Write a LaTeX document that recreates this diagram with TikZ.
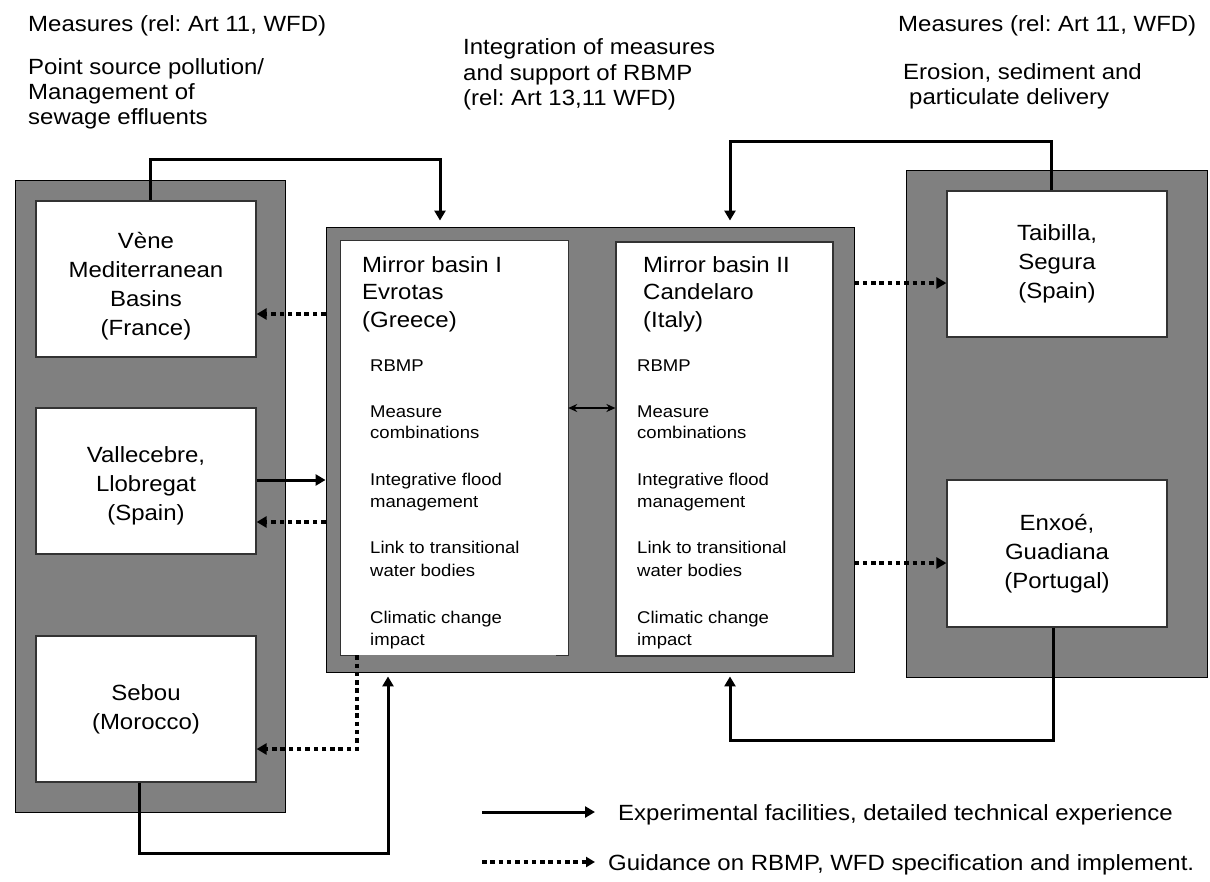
\documentclass[tikz,border=0pt]{standalone}
\usepackage{fontspec}
\setmainfont{Liberation Sans}[FakeStretch=1.09]
\usetikzlibrary{arrows.meta,calc}
\definecolor{panelgray}{HTML}{808080}
\definecolor{edgegray}{HTML}{333333}
\newcommand{\fsbig}{\fontsize{22}{29}\selectfont}
\newcommand{\fssmall}{\fontsize{17}{21}\selectfont}
\frenchspacing
\begin{document}
\begin{tikzpicture}[x=1pt,y=-1pt,
  panel/.style={rectangle, draw=black, line width=0.9pt, fill=panelgray, inner sep=0pt},
  basin/.style={rectangle, draw=edgegray, line width=1.2pt, fill=white, inner sep=0pt,
                align=center, font=\fsbig},
  title/.style={anchor=base west, inner sep=0pt, font=\fsbig},
  item/.style={anchor=base west, inner sep=0pt, font=\fssmall},
  flow/.style={line width=3pt, -{Triangle[length=10pt,width=11pt]}},
  guide/.style={line width=3.3pt, dash pattern=on 4.5pt off 3.8pt,
                -{Triangle[length=10pt,width=11pt]}},
  link/.style={line width=1.5pt, {Stealth[length=9pt,width=8pt]}-{Stealth[length=9pt,width=8pt]}}]

\useasboundingbox (0,0) rectangle (1210,881);

% headings
\node[title] (hl1) at (28,31)  {Measures (rel: Art 11, WFD)};
\node[title] (hl2) at (28,74)  {Point source pollution/};
\node[title] (hl3) at (28,99)  {Management of};
\node[title] (hl4) at (28,124) {sewage effluents};
\node[title] (hc1) at (463,54)  {Integration of measures};
\node[title] (hc2) at (463,80)  {and support of RBMP};
\node[title] (hc3) at (463,105) {(rel: Art 13,11 WFD)};
\node[title] (hr1) at (898,31)  {Measures (rel: Art 11, WFD)};
\node[title] (hr2) at (903,79)  {Erosion, sediment and};
\node[title] (hr3) at (909,104) {particulate delivery};

% grey panels
\node[panel, minimum width=270pt, minimum height=632pt] (leftpanel)  at (150,496) {};
\node[panel, minimum width=528pt, minimum height=445pt] (midpanel)   at (590,449.5) {};
\node[panel, minimum width=301pt, minimum height=507pt] (rightpanel) at (1056.5,423.5) {};

% basins (a strut in the first line lowers the text block a little)
\node[basin, minimum width=220pt, minimum height=156pt] (vene)  at (146,279)
  {\rule{0pt}{31pt}Vène\\Mediterranean\\Basins\\(France)};
\node[basin, minimum width=220pt, minimum height=146pt] (valle) at (146,481)
  {\rule{0pt}{26pt}Vallecebre,\\Llobregat\\(Spain)};
\node[basin, minimum width=220pt, minimum height=146pt] (sebou) at (146,709)
  {Sebou\\(Morocco)};
\node[basin, minimum width=220pt, minimum height=146pt] (taib)  at (1057,264)
  {Taibilla,\\Segura\\(Spain)};
\node[basin, minimum width=220pt, minimum height=147pt] (enxoe) at (1057,553.5)
  {Enxoé,\\Guadiana\\(Portugal)};

% mirror basins
\node[rectangle, fill=white, inner sep=0pt, minimum width=227pt, minimum height=414pt] (mirI) at (454.5,448) {};
\draw[edgegray, line width=1.2pt]
  ($(mirI.south west)+(16,0)$) -- (mirI.south west) -- (mirI.north west)
  -- (mirI.north east) -- (mirI.south east) -- ($(mirI.south east)+(-12,0)$);
\node[basin, minimum width=217pt, minimum height=414pt] (mirII) at (724.5,449) {};

\node[title] (m1a) at (362,272) {Mirror basin I};
\node[title] (m1b) at (362,299) {Evrotas};
\node[title] (m1c) at (362,327) {(Greece)};
\node[title] (m2a) at (643,272) {Mirror basin II};
\node[title] (m2b) at (643,299) {Candelaro};
\node[title] (m2c) at (643,327) {(Italy)};

\foreach \yy/\itemtext [count=\k] in {371/RBMP, 417/Measure, 438/combinations,
    485/Integrative flood, 507/management, 553/Link to transitional,
    576/water bodies, 623/Climatic change, 645/impact} {
  \node[item] (ia\k) at (370,\yy) {\itemtext};
  \node[item] (ib\k) at (637,\yy) {\itemtext};
}

% helper coordinates for connector routes
\coordinate (xA) at (150,0);   \coordinate (hA) at (440,159);
\coordinate (xB) at (1051,0);  \coordinate (hB) at (730,141);
\coordinate (yC) at (0,314);
\coordinate (yD) at (0,480);
\coordinate (yE) at (0,522);
\coordinate (yF) at (0,408);
\coordinate (yG) at (0,283);
\coordinate (yH) at (0,563);
\coordinate (xI) at (1053,0);  \coordinate (hI) at (730,740);
\coordinate (xJ) at (139,0);   \coordinate (hJ) at (388,853);
\coordinate (xK) at (357,0);   \coordinate (yK) at (0,749);

% connectors
\draw[flow, shorten >=6pt] (vene.north -| xA) |- (hA) -- (midpanel.north -| hA);
\draw[flow, shorten >=6pt] (taib.north -| xB) |- (hB) -- (midpanel.north -| hB);
\draw[guide] (midpanel.west |- yC) -- (vene.east |- yC);
\draw[flow]  (valle.east |- yD) -- (midpanel.west |- yD);
\draw[guide] (midpanel.west |- yE) -- (valle.east |- yE);
\draw[link]  (mirI.east |- yF) -- (mirII.west |- yF);
\draw[guide] (midpanel.east |- yG) -- (taib.west |- yG);
\draw[guide] (midpanel.east |- yH) -- (enxoe.west |- yH);
\draw[flow, shorten >=4pt] (enxoe.south -| xI) |- (hI) -- (midpanel.south -| hI);
\draw[flow, shorten >=4pt] (sebou.south -| xJ) |- (hJ) -- (midpanel.south -| hJ);
\draw[guide] (mirI.south -| xK) |- (sebou.east |- yK);

% legend
\coordinate (la) at (482,812); \coordinate (lb) at (595,812);
\coordinate (lc) at (482,862); \coordinate (ld) at (595,862);
\draw[flow] (la) -- (lb);
\draw[line width=3.3pt, dash pattern=on 4.5pt off 3.8pt,
      -{Triangle[length=9pt,width=10pt]}] (lc) -- (ld);
\node[title] (leg1) at (618,820) {Experimental facilities, detailed technical experience};
\node[title] (leg2) at (608,870) {Guidance on RBMP, WFD specification and implement.};
\end{tikzpicture}
\end{document}
